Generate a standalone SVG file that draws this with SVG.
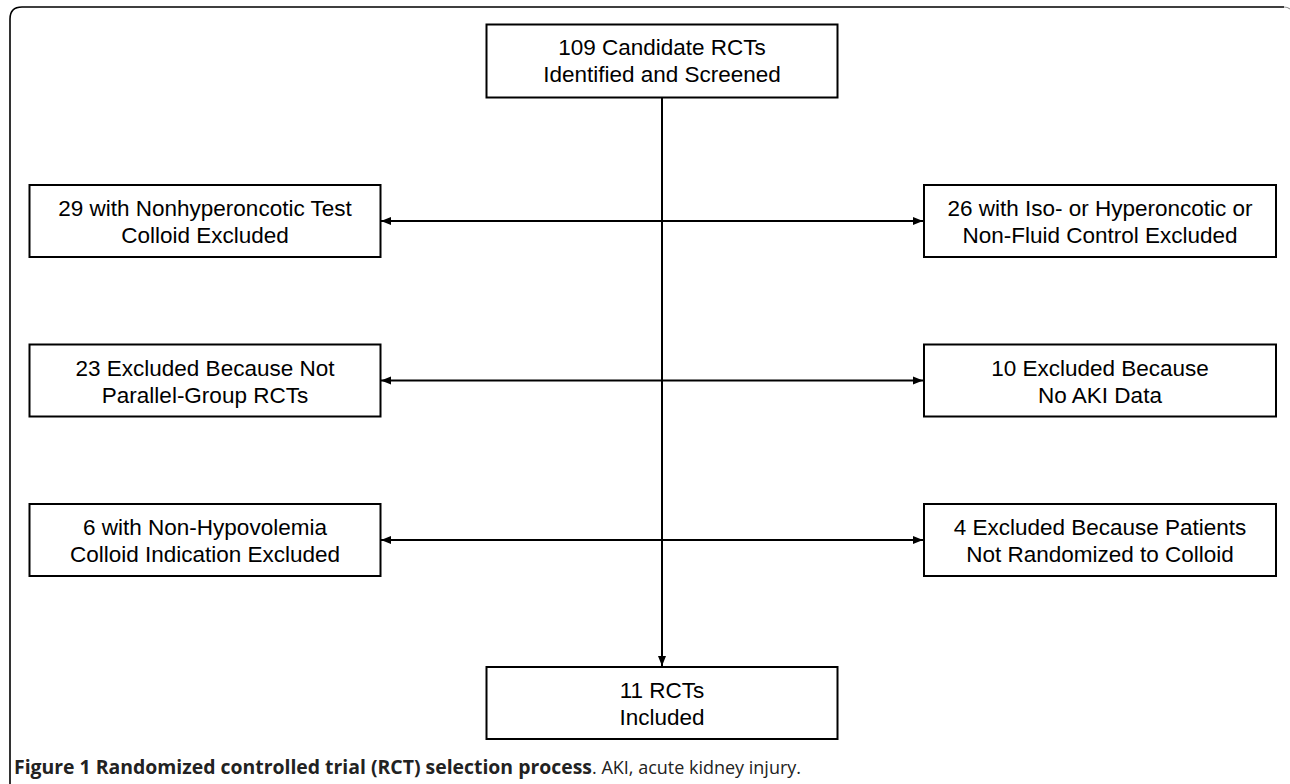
<svg xmlns="http://www.w3.org/2000/svg" width="1290" height="784" viewBox="0 0 1290 784">
<style>
.box{fill:#fff;stroke:#000;stroke-width:2}
.t{font-family:"Liberation Sans",Arial,sans-serif;font-size:22.5px;fill:#000;text-anchor:middle}
.ln{stroke:#000;stroke-width:2;fill:none}
.frame{stroke:#000;stroke-width:1.6;fill:none}
.cap{font-family:"Open Sans","Noto Sans",sans-serif;font-size:19px;fill:#222}
</style>
<defs>
<marker id="ah" viewBox="0 0 10 10" refX="10" refY="5" markerWidth="10" markerHeight="10" markerUnits="userSpaceOnUse" orient="auto-start-reverse">
<path d="M0,1 L10,5 L0,9 Z" fill="#000"/>
</marker>
</defs>
<rect width="1290" height="784" fill="#fff"/>
<path class="frame" d="M10,784 V19 Q10,7 22,7 H1284"/>
<path d="M1284,7 Q1288,7 1290,9" stroke="#999" stroke-width="1.2" fill="none"/>
<g id="connectors">
<line class="ln" x1="662" y1="98" x2="662" y2="666" marker-end="url(#ah)"/>
<line class="ln" x1="381" y1="221" x2="923" y2="221" marker-start="url(#ah)" marker-end="url(#ah)"/>
<line class="ln" x1="381" y1="380.5" x2="923" y2="380.5" marker-start="url(#ah)" marker-end="url(#ah)"/>
<line class="ln" x1="381" y1="540" x2="923" y2="540" marker-start="url(#ah)" marker-end="url(#ah)"/>
</g>
<g id="n-top">
<rect class="box" x="486.5" y="24.5" width="351" height="73"/>
<text class="t" x="662" y="55">109 Candidate RCTs</text>
<text class="t" x="662" y="82">Identified and Screened</text>
</g>
<g id="n-l1">
<rect class="box" x="29.5" y="185" width="351" height="72"/>
<text class="t" x="205" y="216">29 with Nonhyperoncotic Test</text>
<text class="t" x="205" y="243">Colloid Excluded</text>
</g>
<g id="n-r1">
<rect class="box" x="924" y="185" width="352" height="72"/>
<text class="t" x="1100" y="216">26 with Iso- or Hyperoncotic or</text>
<text class="t" x="1100" y="243">Non-Fluid Control Excluded</text>
</g>
<g id="n-l2">
<rect class="box" x="29.5" y="344.5" width="351" height="72"/>
<text class="t" x="205" y="375.5">23 Excluded Because Not</text>
<text class="t" x="205" y="402.5">Parallel-Group RCTs</text>
</g>
<g id="n-r2">
<rect class="box" x="924" y="344.5" width="352" height="72"/>
<text class="t" x="1100" y="375.5">10 Excluded Because</text>
<text class="t" x="1100" y="402.5">No AKI Data</text>
</g>
<g id="n-l3">
<rect class="box" x="29.5" y="504" width="351" height="72"/>
<text class="t" x="205" y="535">6 with Non-Hypovolemia</text>
<text class="t" x="205" y="562">Colloid Indication Excluded</text>
</g>
<g id="n-r3">
<rect class="box" x="924" y="504" width="352" height="72"/>
<text class="t" x="1100" y="535">4 Excluded Because Patients</text>
<text class="t" x="1100" y="562">Not Randomized to Colloid</text>
</g>
<g id="n-bottom">
<rect class="box" x="486.5" y="667" width="351" height="72"/>
<text class="t" x="662" y="698">11 RCTs</text>
<text class="t" x="662" y="725">Included</text>
</g>
<text class="cap" x="14" y="774" font-weight="bold" textLength="578" lengthAdjust="spacingAndGlyphs">Figure 1 Randomized controlled trial (RCT) selection process</text>
<text class="cap" x="592" y="774" textLength="209" lengthAdjust="spacingAndGlyphs">. AKI, acute kidney injury.</text>
</svg>
